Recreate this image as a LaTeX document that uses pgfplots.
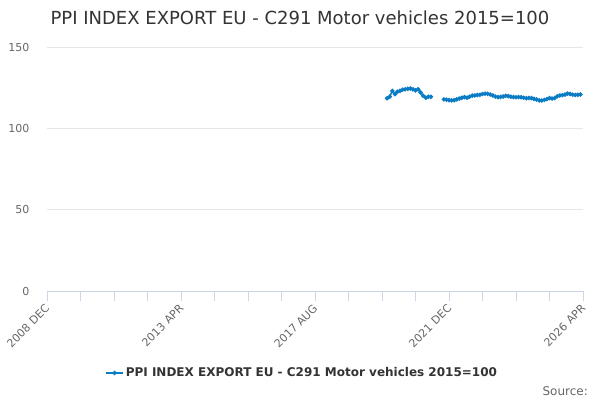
\documentclass[border=0pt]{standalone}
\usepackage{pgfplots}
\pgfplotsset{compat=1.18}
\usepackage{pgfplotstable}
\usepackage{fontspec}
\setmainfont{DejaVu Sans}
\definecolor{series}{HTML}{0A7CC4}
\definecolor{txt}{HTML}{333333}
\definecolor{lbl}{HTML}{666666}
\definecolor{grd}{HTML}{E6E6E6}
\definecolor{axl}{HTML}{CCD6EB}
% x = months since 2008 DEC
\pgfplotstableread{
m v
132 118.5
133 119.5
134 123.0
135 121.0
136 122.5
137 123.0
138 123.8
139 124.0
140 124.3
141 124.5
142 124.0
143 123.3
144 124.0
145 122.0
146 120.0
147 118.8
148 119.4
149 119.4
151 nan
154 117.8
155 117.6
156 117.3
157 117.2
158 117.3
159 117.8
160 118.3
161 118.8
162 119.2
163 118.8
164 119.5
165 120.1
166 120.2
167 120.5
168 120.6
169 121.1
170 121.3
171 121.2
172 120.8
173 120.2
174 119.5
175 119.2
176 119.3
177 119.6
178 120.0
179 119.8
180 119.4
181 119.2
182 119.1
183 119.2
184 119.1
185 118.8
186 118.5
187 118.7
188 118.6
189 118.1
190 117.7
191 117.2
192 117.1
193 117.5
194 118.0
195 118.6
196 118.3
197 118.6
198 119.7
199 120.2
200 120.4
201 120.7
202 121.4
203 121.1
204 120.7
205 120.5
206 120.6
207 120.8
}\ppidata
\begin{document}
\begin{tikzpicture}
\path[use as bounding box] (0,0) rectangle (600bp,400bp);
\node[anchor=base, text=txt, font=\fontsize{18bp}{22bp}\selectfont, inner sep=0pt] at (300bp,375bp) {PPI INDEX EXPORT EU - C291 Motor vehicles 2015=100};
\begin{axis}[
  at={(47bp,109bp)}, anchor=south west,
  scale only axis, width=536bp, height=244bp,
  xmin=0, xmax=208, ymin=0, ymax=150,
  axis x line*=bottom, axis y line*=left,
  y axis line style={draw=none},
  x axis line style={draw=axl, line width=0.8bp},
  xtick={0,52,104,156,208},
  minor xtick={13,26,39,65,78,91,117,130,143,169,182,195},
  xticklabels={2008 DEC,2013 APR,2017 AUG,2021 DEC,2026 APR},
  ytick={0,50,100,150},
  tick align=outside,
  xtick style={draw=axl, line width=0.8bp},
  minor x tick style={draw=axl, line width=0.8bp},
  major tick length=10bp, minor tick length=10bp,
  ytick style={draw=none},
  ymajorgrids,
  grid style={draw=grd, line width=0.8bp},
  /pgf/number format/assume math mode=true,
  yticklabel style={font=\fontsize{11bp}{13bp}\selectfont, text=lbl, anchor=east, xshift=-4bp},
  xticklabel style={font=\fontsize{11bp}{13bp}\selectfont, text=lbl, xshift=0.5bp, yshift=-5.5bp, rotate=45, anchor=east, inner sep=0pt},
  unbounded coords=jump,
  clip=false,
  legend style={at={(0.476,-0.336)}, anchor=center, draw=none, fill=none,
    font=\bfseries\fontsize{12bp}{14bp}\selectfont, text=txt},
]
\addplot[color=series, line width=1.5bp, mark=*, mark size=1.4bp, mark options={solid}] table[x=m, y=v] {\ppidata};
\addlegendentry{PPI INDEX EXPORT EU - C291 Motor vehicles 2015=100}
\end{axis}
\node[anchor=base east, text=lbl, font=\fontsize{12bp}{14bp}\selectfont, inner sep=0pt] at (588bp,5bp) {Source:};
\end{tikzpicture}
\end{document}
